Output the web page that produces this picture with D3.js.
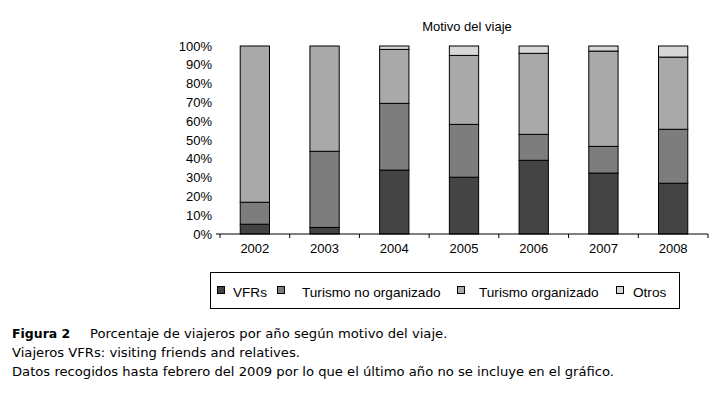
<!DOCTYPE html>
<html>
<head>
<meta charset="utf-8">
<script src="https://cdn.jsdelivr.net/npm/d3@7"></script>
<style>
  body { margin: 0; background: #fff; }
  text { font-family: "Liberation Sans", Arial, sans-serif; fill: #000; }
  .caption text { font-family: "DejaVu Sans", sans-serif; font-size: 13.15px; }
</style>
</head>
<body>
<div class="chart"></div>
<script>
'use strict'
var years = ['2002', '2003', '2004', '2005', '2006', '2007', '2008']
var vfrs = [5.2, 3.5, 34, 30.2, 39.2, 32.4, 27]
var turismoNoOrg = [11.7, 40.5, 35.5, 28.1, 13.8, 14.2, 28.7]
var turismoOrg = [83.1, 56, 28.7, 36.7, 43.1, 50.7, 38.4]
var otros = [0, 0, 1.8, 5, 3.9, 2.7, 5.9]
var seriesNames = ['VFRs', 'Turismo no organizado', 'Turismo organizado', 'Otros']
var seriesColors = ['#444444', '#7d7d7d', '#a9a9a9', '#d7d7d7']
var yTicks = [0, 10, 20, 30, 40, 50, 60, 70, 80, 90, 100]
var captionLines = [
  'Viajeros VFRs: visiting friends and relatives.',
  'Datos recogidos hasta febrero del 2009 por lo que el último año no se incluye en el gráfico.'
]

var width = 726
var height = 393

var rows = years.map(function (y, i) {
  return { year: y, 'VFRs': vfrs[i], 'Turismo no organizado': turismoNoOrg[i], 'Turismo organizado': turismoOrg[i], 'Otros': otros[i] }
})
var stacked = d3.stack().keys(seriesNames)(rows)

var svg = d3.select('.chart').append('svg')
  .attr('width', width)
  .attr('height', height)

var x = d3.scaleBand().domain(years).range([220, 708]).paddingInner(0.58).paddingOuter(0.29)
var y = d3.scaleLinear().domain([0, 100]).range([234, 46])

// title
svg.append('text')
  .attr('x', 467)
  .attr('y', 31)
  .attr('text-anchor', 'middle')
  .style('font-size', '13px')
  .text('Motivo del viaje')

// y labels (no axis line)
svg.append('g').selectAll('text')
  .data(yTicks)
  .enter().append('text')
  .attr('x', 212)
  .attr('y', function (d) { return y(d) + 4.5 })
  .attr('text-anchor', 'end')
  .style('font-size', '13px')
  .text(function (d) { return d + '%' })

// bars
svg.append('g').selectAll('g')
  .data(stacked)
  .enter().append('g')
  .attr('fill', function (d, i) { return seriesColors[i] })
  .selectAll('rect')
  .data(function (d) { return d.filter(function (p) { return p[1] - p[0] > 0 }) })
  .enter().append('rect')
  .attr('x', function (d) { return x(d.data.year) })
  .attr('y', function (d) { return y(d[1]) })
  .attr('width', x.bandwidth())
  .attr('height', function (d) { return y(d[0]) - y(d[1]) })
  .attr('stroke', '#000')
  .attr('stroke-width', 1)

// x axis
var xAxis = svg.append('g')
xAxis.append('line')
  .attr('x1', 216).attr('x2', x.range()[1])
  .attr('y1', y(0)).attr('y2', y(0))
  .attr('stroke', '#000')
var bounds = years.map(function (yr) { return x(yr) - x.step() * x.paddingInner() / 2 })
bounds.push(x.range()[1])
xAxis.selectAll('.tick')
  .data(bounds)
  .enter().append('line')
  .attr('class', 'tick')
  .attr('x1', function (d) { return d }).attr('x2', function (d) { return d })
  .attr('y1', y(0)).attr('y2', y(0) + 4)
  .attr('stroke', '#000')
xAxis.selectAll('text')
  .data(years)
  .enter().append('text')
  .attr('x', function (d) { return x(d) + x.bandwidth() / 2 })
  .attr('y', 253)
  .attr('text-anchor', 'middle')
  .style('font-size', '13px')
  .text(function (d) { return d })

// legend
var legendSquareX = [217, 277, 457, 616]
var legendTextX = [233, 302, 479, 633]
var legend = svg.append('g')
legend.append('rect')
  .attr('x', 210.5).attr('y', 272.5)
  .attr('width', 469).attr('height', 36)
  .attr('fill', 'none').attr('stroke', '#000')
var items = legend.selectAll('.item')
  .data(seriesNames)
  .enter().append('g')
  .attr('class', 'item')
items.append('rect')
  .attr('x', function (d, i) { return legendSquareX[i] + 0.5 })
  .attr('y', 286.5)
  .attr('width', 7).attr('height', 7)
  .attr('fill', function (d, i) { return seriesColors[i] })
  .attr('stroke', '#000')
items.append('text')
  .attr('x', function (d, i) { return legendTextX[i] })
  .attr('y', 296.5)
  .style('font-size', '13.6px')
  .text(function (d) { return d })

// caption
var caption = svg.append('g').attr('class', 'caption')
caption.append('text')
  .attr('x', 12).attr('y', 338)
  .style('font-weight', 'bold')
  .style('font-size', '12.5px')
  .text('Figura 2')
caption.append('text')
  .attr('x', 90).attr('y', 338)
  .text('Porcentaje de viajeros por año según motivo del viaje.')
caption.selectAll('.line')
  .data(captionLines)
  .enter().append('text')
  .attr('class', 'line')
  .attr('x', 12)
  .attr('y', function (d, i) { return 357 + i * 18.5 })
  .text(function (d) { return d })
</script>
</body>
</html>
